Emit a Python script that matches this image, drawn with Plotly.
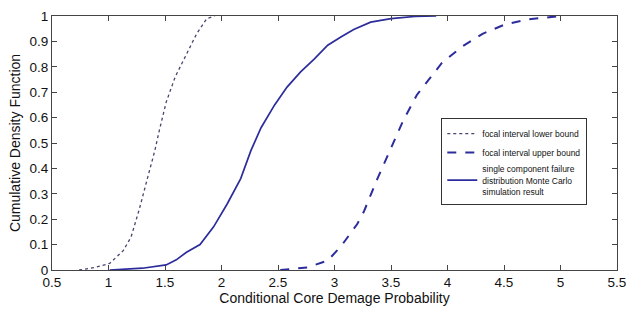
import plotly.graph_objects as go

# Focal interval lower bound (dotted)
lower_x = [0.74, 0.88, 1.01, 1.13, 1.20, 1.27, 1.35, 1.41, 1.45, 1.51, 1.59, 1.68, 1.78, 1.87, 1.94]
lower_y = [0.0, 0.01, 0.026, 0.076, 0.13, 0.235, 0.37, 0.47, 0.55, 0.66, 0.76, 0.84, 0.93, 0.99, 1.0]

# Focal interval upper bound (dashed)
upper_x = [2.52, 2.76, 2.94, 3.06, 3.20, 3.26, 3.38, 3.50, 3.61, 3.73, 3.85, 3.95, 4.13, 4.31, 4.51, 4.72, 5.00]
upper_y = [0.0, 0.01, 0.037, 0.095, 0.18, 0.23, 0.36, 0.48, 0.59, 0.69, 0.76, 0.815, 0.88, 0.93, 0.967, 0.987, 1.0]

# Monte Carlo simulation result (solid)
mc_x = [1.01, 1.30, 1.51, 1.60, 1.69, 1.81, 1.93, 2.05, 2.17, 2.26, 2.35, 2.47, 2.58, 2.70, 2.82, 2.94, 3.06, 3.17, 3.32, 3.50, 3.71, 3.90]
mc_y = [0.0, 0.007, 0.02, 0.04, 0.07, 0.10, 0.17, 0.26, 0.36, 0.47, 0.56, 0.65, 0.72, 0.78, 0.83, 0.885, 0.918, 0.947, 0.976, 0.99, 0.998, 1.0]

names = ["focal interval lower bound",
         "focal interval upper bound",
         "single component failure<br>distribution Monte Carlo<br>simulation result"]

navy = "#2c2c9c"
fig = go.Figure()
fig.add_trace(go.Scatter(x=lower_x, y=lower_y, mode="lines", name=names[0],
                         line=dict(color="#45456e", width=1.3, dash="dot")))
fig.add_trace(go.Scatter(x=upper_x, y=upper_y, mode="lines", name=names[1],
                         line=dict(color=navy, width=2, dash="dash")))
fig.add_trace(go.Scatter(x=mc_x, y=mc_y, mode="lines", name=names[2],
                         line=dict(color=navy, width=1.7)))

axis_common = dict(showgrid=False, zeroline=False, showline=True, linecolor="#444",
                   linewidth=1, mirror="ticks", ticks="inside", ticklen=5,
                   tickcolor="#444", tickfont=dict(size=13.5, color="#111"),
                   ticklabeloverflow="allow", automargin=False)

fig.update_layout(
    width=626, height=309,
    margin=dict(l=52, r=9, t=16, b=39),
    paper_bgcolor="white", plot_bgcolor="white",
    font=dict(family="Liberation Sans, Arial, sans-serif", color="#111"),
    xaxis=dict(range=[0.5, 5.5], dtick=0.5, tick0=0.5,
               title=dict(text="Conditional Core Demage Probability", font=dict(size=14), standoff=2),
               **axis_common),
    yaxis=dict(range=[0, 1], dtick=0.1, tick0=0,
               title=dict(text="Cumulative Density Function", font=dict(size=14), standoff=5),
               **axis_common),
    legend=dict(x=0.689, y=0.598, xanchor="left", yanchor="top",
                bgcolor="white", bordercolor="#333", borderwidth=1,
                font=dict(family="Liberation Sans, Arial, sans-serif", size=8.5, color="#111"),
                itemwidth=30, tracegroupgap=0),
    showlegend=True,
)

fig.write_html("out.html", config={"displayModeBar": False},
               post_script="document.body.style.margin='0';document.body.style.overflow='hidden';")
